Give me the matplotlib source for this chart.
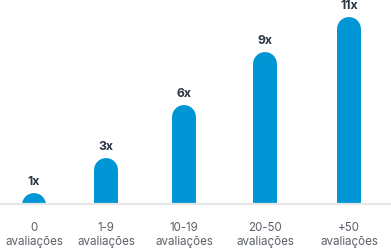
import matplotlib.pyplot as plt

categories = ['0', '1-9', '10-19', '20-50', '+50']
values = [1, 3, 6, 9, 11]
value_labels = ['1x', '3x', '6x', '9x', '11x']

# layout (pixels of a 391x248 figure)
W, H, DPI = 391, 248, 100
base_px = 204          # y pixel of the grey baseline
px_per_unit = 17.6     # bar scale
y0 = 0.39              # value shown at the baseline
bar_w = 24             # bar width in px
xpos = [34, 106, 184, 265, 349]

blue = '#0096d6'
dark = '#2b3544'
grey = '#5b6168'

plt.rcParams['font.family'] = ['Inter', 'DejaVu Sans']

fig = plt.figure(figsize=(W / DPI, H / DPI), dpi=DPI)
ax = fig.add_axes([0, (H - base_px) / H, 1, base_px / H])
ax.set_xlim(0, W)
ax.set_ylim(y0, y0 + base_px / px_per_unit)

lw = bar_w * 72 / DPI
r = (bar_w / 2) / px_per_unit
for x, v, lab in zip(xpos, values, value_labels):
    ax.plot([x, x], [-2, v - r], color=blue, lw=lw, solid_capstyle='round')
    ax.annotate(lab, xy=(x, v), xytext=(0, 11.5), textcoords='offset pixels',
                ha='center', va='center', fontsize=8.8, fontweight='bold',
                color=dark)

ax.axhline(y0, color='#e6e6e6', lw=1.6, clip_on=False)

# category labels, two lines each
for x, c in zip(xpos, categories):
    ax.annotate(c, xy=(x, y0), xytext=(0, -24), textcoords='offset pixels',
                ha='center', va='center', fontsize=8.3, color=grey,
                annotation_clip=False)
    ax.annotate('avaliações', xy=(x, y0), xytext=(0, -37.5),
                textcoords='offset pixels', ha='center', va='center',
                fontsize=8.3, color=grey, annotation_clip=False)

ax.set_xticks([])
ax.set_yticks([])
for s in ax.spines.values():
    s.set_visible(False)

fig.savefig('out.png', dpi=DPI)
